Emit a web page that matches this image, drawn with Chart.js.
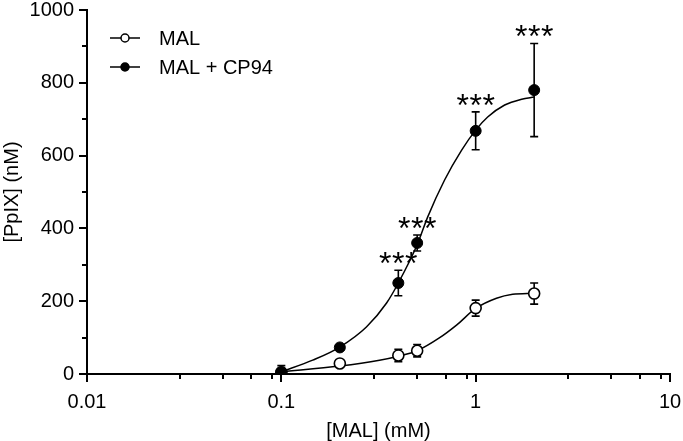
<!DOCTYPE html>
<html>
<head>
<meta charset="utf-8">
<script src="https://cdn.jsdelivr.net/npm/chart.js@4.4.0/dist/chart.umd.min.js"></script>
<style>
  html, body { margin: 0; padding: 0; background: #fff; }
</style>
</head>
<body>
<canvas id="doseChart" width="683" height="441"></canvas>
<script>
// дозы MAL (mM)
const doses = [0.1, 0.2, 0.4, 0.5, 1, 2];

// MAL alone
const malMean = [5, 29, 51, 64, 181, 221];
const malSem = [18, 4, 17, 17, 22, 29];

// MAL + CP94
const cp94Mean = [5, 73, 250, 360, 668, 780];
const cp94Sem = [6, 4, 35, 22, 52, 128];
const cp94Stars = ['', '', '***', '***', '***', '***'];

// fitted curves
const malFitX = [0.1, 0.2, 0.32, 0.4, 0.5, 0.65, 0.8, 1, 1.28, 1.55, 2];
const malFitY = [6, 22, 38, 49, 64, 99, 135, 180, 208, 219, 222];
const cp94FitX = [0.1, 0.145, 0.2, 0.274, 0.348, 0.4, 0.5, 0.566, 0.692, 0.847, 1, 1.153, 1.41, 1.725, 2];
const cp94FitY = [6, 38, 74, 129, 195, 250, 355, 431, 533, 615, 670, 706, 739, 755, 761];

// оси
const xTicks = [0.01, 0.1, 1, 10];
const xTickLabels = ['0.01', '0.1', '1', '10'];
const xMinorTicks = [0.03, 0.05, 0.07, 0.09, 0.3, 0.5, 0.7, 0.9, 3, 5, 7, 9];
const yTicks = [0, 200, 400, 600, 800, 1000];
const yTickLabels = ['0', '200', '400', '600', '800', '1000'];
const yMinorTicks = [100, 300, 500, 700, 900];

const FONT = "'Liberation Sans', Arial, sans-serif";
Chart.defaults.font.family = FONT;
Chart.defaults.color = '#000';

const toPoints = (xs, ys) => xs.map((x, i) => ({ x: x, y: ys[i] }));

// error bars, drawn just before the markers of a dataset
const errorBars = {
  id: 'errorBars',
  beforeDatasetDraw(chart, args) {
    const ds = chart.data.datasets[args.index];
    if (!ds.errors) return;
    const xs = chart.scales.x, ys = chart.scales.y, ctx = chart.ctx;
    ctx.save();
    ctx.strokeStyle = '#000';
    ctx.lineWidth = 1.6;
    ds.data.forEach((p, i) => {
      const e = ds.errors[i];
      const px = xs.getPixelForValue(p.x);
      const top = ys.getPixelForValue(p.y + e);
      const bot = ys.getPixelForValue(Math.max(p.y - e, 0));
      ctx.beginPath();
      ctx.moveTo(px, top); ctx.lineTo(px, bot);
      ctx.moveTo(px - 4, top); ctx.lineTo(px + 4, top);
      if (p.y - e > 0) { ctx.moveTo(px - 4, bot); ctx.lineTo(px + 4, bot); }
      ctx.stroke();
    });
    ctx.restore();
  }
};

// звёздочки значимости
const stars = {
  id: 'stars',
  afterDatasetsDraw(chart) {
    const xs = chart.scales.x, ys = chart.scales.y, ctx = chart.ctx;
    ctx.save();
    ctx.fillStyle = '#000';
    ctx.font = '32px ' + FONT;
    ctx.textAlign = 'center';
    ctx.textBaseline = 'alphabetic';
    const m = ctx.measureText('*');
    const mid = (m.actualBoundingBoxAscent - m.actualBoundingBoxDescent) / 2;
    doses.forEach((d, i) => {
      const s = cp94Stars[i];
      if (!s) return;
      const px = xs.getPixelForValue(d);
      const py = ys.getPixelForValue(cp94Mean[i] + cp94Sem[i]) - 12;
      for (let k = 0; k < s.length; k++) {
        ctx.fillText('*', px + (k - (s.length - 1) / 2) * 13, py + mid);
      }
    });
    ctx.restore();
  }
};

// tick marks on both axes
const tickMarks = {
  id: 'tickMarks',
  afterDraw(chart) {
    const xs = chart.scales.x, ys = chart.scales.y, ctx = chart.ctx;
    const area = chart.chartArea;
    ctx.save();
    ctx.strokeStyle = '#000';
    ctx.lineWidth = 2;
    ctx.beginPath();
    xTicks.forEach(v => { const p = Math.round(xs.getPixelForValue(v)); ctx.moveTo(p, area.bottom); ctx.lineTo(p, area.bottom + 8); });
    xMinorTicks.forEach(v => { const p = Math.round(xs.getPixelForValue(v)); ctx.moveTo(p, area.bottom); ctx.lineTo(p, area.bottom + 5); });
    yTicks.forEach(v => { const p = Math.round(ys.getPixelForValue(v)); ctx.moveTo(area.left, p); ctx.lineTo(area.left - 8, p); });
    yMinorTicks.forEach(v => { const p = Math.round(ys.getPixelForValue(v)); ctx.moveTo(area.left, p); ctx.lineTo(area.left - 5, p); });
    ctx.stroke();
    ctx.restore();
  }
};

// legend: line with marker, then text
const lineLegend = {
  id: 'lineLegend',
  afterDraw(chart) {
    const ctx = chart.ctx;
    const items = [
      { text: 'MAL', fill: '#fff', y: 38 },
      { text: 'MAL + CP94', fill: '#000', y: 67 }
    ];
    ctx.save();
    ctx.font = '20px ' + FONT;
    ctx.textBaseline = 'middle';
    ctx.fillStyle = '#000';
    ctx.strokeStyle = '#000';
    ctx.lineWidth = 1.5;
    items.forEach(it => {
      ctx.beginPath();
      ctx.moveTo(110, it.y); ctx.lineTo(140, it.y);
      ctx.stroke();
      ctx.beginPath();
      ctx.arc(125, it.y, 4, 0, Math.PI * 2);
      ctx.fillStyle = it.fill;
      ctx.fill();
      ctx.stroke();
      ctx.fillStyle = '#000';
      ctx.fillText(it.text, 159, it.y + 1);
    });
    ctx.restore();
  }
};

const ctx = document.getElementById('doseChart');
const doseChart = new Chart(ctx, {
  type: 'scatter',
  data: {
    datasets: [{
      label: 'MAL fit',
      data: toPoints(malFitX, malFitY),
      showLine: true,
      pointRadius: 0,
      borderColor: '#000',
      borderWidth: 1.5,
      cubicInterpolationMode: 'monotone',
      order: 3
    }, {
      label: 'MAL + CP94 fit',
      data: toPoints(cp94FitX, cp94FitY),
      showLine: true,
      pointRadius: 0,
      borderColor: '#000',
      borderWidth: 1.5,
      cubicInterpolationMode: 'monotone',
      order: 3
    }, {
      label: 'MAL',
      data: toPoints(doses, malMean),
      errors: malSem,
      pointRadius: 5.5,
      pointBackgroundColor: '#fff',
      pointBorderColor: '#000',
      pointBorderWidth: 1.6,
      order: 1
    }, {
      label: 'MAL + CP94',
      data: toPoints(doses, cp94Mean),
      errors: cp94Sem,
      pointRadius: 5.5,
      pointBackgroundColor: '#000',
      pointBorderColor: '#000',
      pointBorderWidth: 1,
      order: 0
    }]
  },
  options: {
    responsive: false,
    animation: false,
    layout: { padding: { left: 0, top: 10, right: 13, bottom: 0 } },
    plugins: {
      legend: { display: false },
      tooltip: { enabled: false }
    },
    scales: {
      x: {
        type: 'logarithmic',
        min: 0.01,
        max: 10,
        afterBuildTicks: scale => { scale.ticks = xTicks.map(v => ({ value: v })); },
        afterFit: scale => {
          scale.height = 67;
          scale.paddingLeft = 0;
          scale.paddingRight = 0;
        },
        grid: { display: false, drawTicks: false },
        border: { display: true, color: '#000', width: 2 },
        ticks: {
          autoSkip: false,
          maxRotation: 0,
          padding: 16,
          font: { size: 20 },
          callback: (v, i) => xTickLabels[i]
        },
        title: {
          display: true,
          text: '[MAL] (mM)',
          font: { size: 20, lineHeight: 1 },
          padding: { top: 0, bottom: 0 }
        }
      },
      y: {
        min: 0,
        max: 1000,
        afterBuildTicks: scale => { scale.ticks = yTicks.map(v => ({ value: v })); },
        afterFit: scale => {
          scale.width = 87;
          scale.paddingTop = 0;
          scale.paddingBottom = 0;
        },
        grid: { display: false, drawTicks: false },
        border: { display: true, color: '#000', width: 2 },
        ticks: {
          padding: 13,
          font: { size: 20 },
          callback: (v, i) => yTickLabels[i]
        },
        title: {
          display: true,
          text: '[PpIX] (nM)',
          font: { size: 20, lineHeight: 1.1 },
          padding: { top: 1, bottom: 0 }
        }
      }
    }
  },
  plugins: [errorBars, stars, tickMarks, lineLegend]
});
</script>
</body>
</html>
